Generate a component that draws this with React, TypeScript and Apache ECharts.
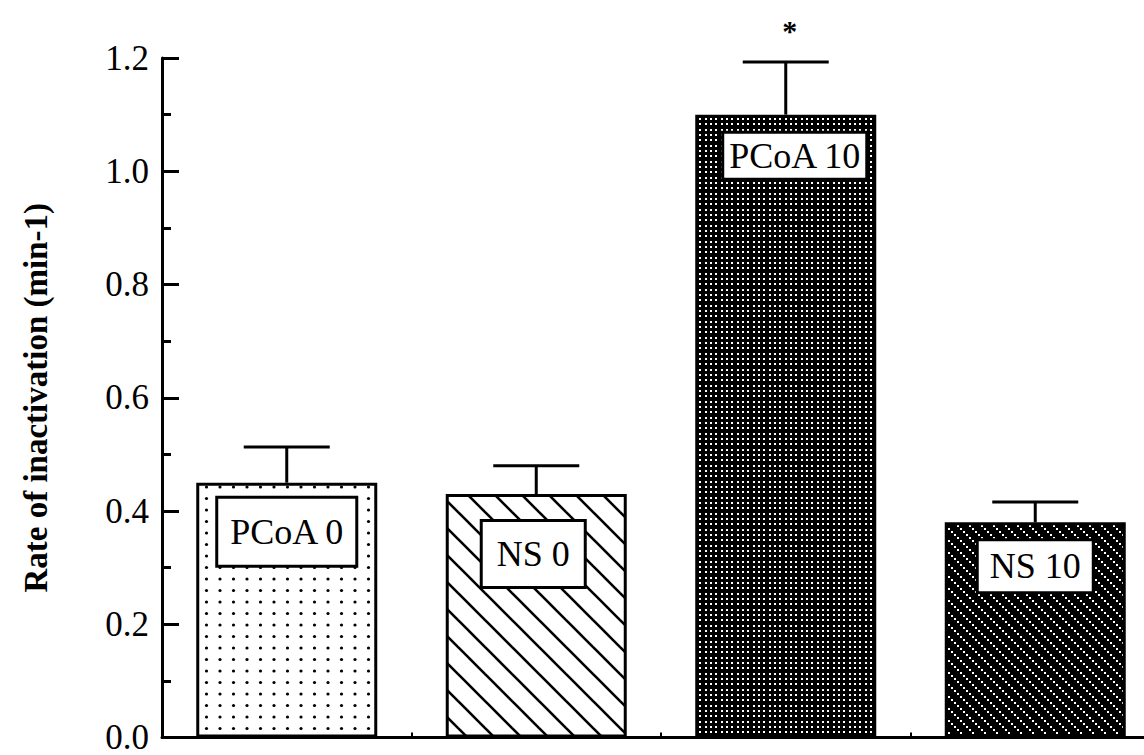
import React, { useEffect, useRef } from "react";
import * as echarts from "echarts";

const categories = ["PCoA 0", "NS 0", "PCoA 10", "NS 10"];
const rates = [0.45, 0.43, 1.1, 0.38];
const errors = [0.063, 0.05, 0.093, 0.036];
const significance = ["", "", "*", ""];
const yMin = 0;
const yMax = 1.2;
const yStep = 0.2;
const yName = "Rate of inactivation (min-1)";

type Tile = { image: string; repeat: string; imageWidth: number; imageHeight: number };

function makeTile(w: number, h: number, draw: (ctx: CanvasRenderingContext2D) => void): Tile {
  const c = document.createElement("canvas");
  c.width = w;
  c.height = h;
  const ctx = c.getContext("2d") as CanvasRenderingContext2D;
  draw(ctx);
  return { image: c.toDataURL(), repeat: "repeat", imageWidth: w, imageHeight: h };
}

function makePatterns(): Tile[] {
  const dotsLight = makeTile(27, 23, (ctx) => {
    ctx.fillStyle = "#fff";
    ctx.fillRect(0, 0, 27, 23);
    ctx.fillStyle = "#000";
    for (let i = 0; i < 2; i++)
      for (let j = 0; j < 2; j++) {
        ctx.beginPath();
        ctx.arc(4 + 13.5 * i, 4 + 11.5 * j, 1.6, 0, Math.PI * 2);
        ctx.fill();
      }
  });
  const hatchLight = makeTile(27, 27, (ctx) => {
    ctx.fillStyle = "#fff";
    ctx.fillRect(0, 0, 27, 27);
    ctx.strokeStyle = "#000";
    ctx.lineWidth = 2.6;
    for (const o of [-27, 0, 27]) {
      ctx.beginPath();
      ctx.moveTo(o - 2, -2);
      ctx.lineTo(o + 29, 29);
      ctx.stroke();
    }
  });
  const dotsDark = makeTile(16, 16, (ctx) => {
    ctx.fillStyle = "#000";
    ctx.fillRect(0, 0, 16, 16);
    ctx.fillStyle = "#fff";
    const p = [1, 6, 11];
    for (const x of p) for (const y of p) ctx.fillRect(x, y, 2, 2);
  });
  const hatchDark = makeTile(12, 12, (ctx) => {
    ctx.fillStyle = "#000";
    ctx.fillRect(0, 0, 12, 12);
    ctx.fillStyle = "#fff";
    for (const d of [0, 3, 6, 9]) ctx.fillRect(d, d, 2, 2);
  });
  return [dotsLight, hatchLight, dotsDark, hatchDark];
}

const labelBoxes = [
  { distance: 16, dx: 0, pv: 15, ph: 11 },
  { distance: 28, dx: -3, pv: 14, ph: 14 },
  { distance: 19, dx: 9, pv: 4, ph: 4 },
  { distance: 19, dx: 0, pv: 7, ph: 11 },
];

export default function App() {
  const ref = useRef<HTMLDivElement>(null);

  useEffect(() => {
    if (!ref.current) return;
    const chart = echarts.init(ref.current, null, { renderer: "svg" });
    const patterns = makePatterns();

    const barData = rates.map((v, i) => ({
      value: v,
      itemStyle: { color: patterns[i] as any },
      label: {
        show: true,
        position: "insideTop",
        distance: labelBoxes[i].distance,
        offset: [labelBoxes[i].dx, 0],
        formatter: "{b}",
        fontFamily: "Liberation Serif",
        fontSize: 36,
        lineHeight: 36,
        color: "#000",
        backgroundColor: "#fff",
        borderColor: "#000",
        borderWidth: 3,
        padding: [labelBoxes[i].pv, labelBoxes[i].ph],
      },
    }));

    const errData = categories.map((c, i) => [i, rates[i], rates[i] + errors[i]]);

    chart.setOption({
      animation: false,
      backgroundColor: "#fff",
      grid: { left: 162, right: 0, top: 58, bottom: 17, containLabel: false },
      xAxis: {
        type: "category",
        data: categories,
        axisLine: { show: true, lineStyle: { color: "#000", width: 3 } },
        axisTick: { show: true, inside: true, length: 5, lineStyle: { color: "#000", width: 2 } },
        axisLabel: { show: false },
        splitLine: { show: false },
      },
      yAxis: {
        type: "value",
        min: yMin,
        max: yMax,
        interval: yStep,
        name: yName,
        nameLocation: "middle",
        nameRotate: 90,
        nameGap: 110,
        nameTextStyle: {
          fontFamily: "Liberation Serif",
          fontWeight: "bold",
          fontSize: 33,
          color: "#000",
        },
        axisLine: { show: true, lineStyle: { color: "#000", width: 3 } },
        axisTick: { show: true, inside: true, length: 17, lineStyle: { color: "#000", width: 3 } },
        minorTick: { show: true, splitNumber: 2, length: 9, lineStyle: { color: "#000", width: 3 } },
        axisLabel: {
          margin: 13,
          fontFamily: "Liberation Serif",
          fontSize: 35,
          color: "#000",
          formatter: (v: number) => v.toFixed(1),
        },
        splitLine: { show: false },
      },
      series: [
        {
          type: "bar",
          data: barData,
          barWidth: 181,
          itemStyle: { borderColor: "#000", borderWidth: 3 },
          z: 2,
        },
        {
          type: "custom",
          data: errData,
          encode: { x: 0, y: [1, 2] },
          z: 3,
          renderItem: (params: any, api: any) => {
            const i = api.value(0);
            const base = api.coord([i, api.value(1)]);
            const top = api.coord([i, api.value(2)]);
            const half = 43;
            const children: any[] = [
              {
                type: "line",
                shape: { x1: base[0], y1: base[1], x2: top[0], y2: top[1] },
                style: { stroke: "#000", lineWidth: 3 },
              },
              {
                type: "line",
                shape: { x1: top[0] - half, y1: top[1], x2: top[0] + half, y2: top[1] },
                style: { stroke: "#000", lineWidth: 3 },
              },
            ];
            const mark = significance[i];
            if (mark) {
              children.push({
                type: "text",
                style: {
                  text: mark,
                  x: top[0] + 4,
                  y: top[1] - 31,
                  fill: "#000",
                  fontFamily: "Liberation Serif",
                  fontSize: 30,
                  fontWeight: "bold",
                  align: "center",
                  verticalAlign: "middle",
                },
              });
            }
            return { type: "group", children };
          },
        },
      ],
    });

    return () => chart.dispose();
  }, []);

  return (
    <div
      ref={ref}
      style={{ position: "fixed", left: 0, top: 0, width: 1160, height: 755, background: "#fff" }}
    />
  );
}
